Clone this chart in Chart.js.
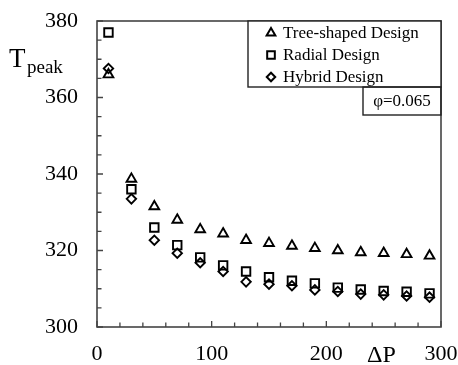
<!DOCTYPE html>
<html>
<head>
<meta charset="utf-8">
<script src="https://cdn.jsdelivr.net/npm/chart.js@4.4.1/dist/chart.umd.min.js"></script>
<style>
  html, body { margin: 0; padding: 0; background: #fff; }
  #wrap { width: 458px; height: 365px; }
</style>
</head>
<body>
<div id="wrap"><canvas id="chart" width="458" height="365"></canvas></div>
<script>
// pressure drop values (x)
const deltaP = [10, 30, 50, 70, 90, 110, 130, 150, 170, 190, 210, 230, 250, 270, 290];

// peak temperature per design
const treeShaped = [366, 338.7, 331.5, 328, 325.5, 324.4, 322.7, 321.9, 321.2, 320.6, 320, 319.5, 319.3, 319, 318.6];
const radial     = [377, 336, 326, 321.4, 318.2, 316.1, 314.5, 313, 312.1, 311.4, 310.3, 309.8, 309.4, 309.2, 308.8];
const hybrid     = [367.6, 333.5, 322.7, 319.3, 316.8, 314.5, 311.8, 311.2, 310.8, 309.7, 309.3, 308.6, 308.4, 308.1, 307.8];

const seriesLabels = ['Tree-shaped Design', 'Radial Design', 'Hybrid Design'];
const xTickLabels = [0, 100, 200, 300];
const yTickLabels = [300, 320, 340, 360, 380];

const SERIF = '"Liberation Serif", "Times New Roman", serif';
const AXIS = '#444';

function toPoints(values) {
  return values.map((v, i) => ({ x: deltaP[i], y: v }));
}

function makeSet(label, values, style, radius) {
  return {
    label,
    data: toPoints(values),
    pointStyle: style,
    pointRadius: radius,
    pointHoverRadius: radius,
    pointBorderColor: '#000',
    pointBackgroundColor: 'rgba(255,255,255,0)',
    pointBorderWidth: 1.9,
    showLine: false,
  };
}

/** frame, inward ticks, axis titles, legend and note box */
const decorations = {
  id: 'decorations',
  afterDraw(chart) {
    const ctx = chart.ctx;
    const a = chart.chartArea;
    const xs = chart.scales.x;
    const ys = chart.scales.y;

    ctx.save();
    // frame
    ctx.strokeStyle = AXIS;
    ctx.lineWidth = 1.6;
    ctx.strokeRect(a.left, a.top, a.right - a.left, a.bottom - a.top);

    // inward ticks
    ctx.lineWidth = 1.3;
    ctx.beginPath();
    xs.ticks.forEach(t => {
      const px = xs.getPixelForValue(t.value);
      const len = t.value % 100 === 0 ? 6 : 4.5;
      ctx.moveTo(px, a.bottom);
      ctx.lineTo(px, a.bottom - len);
    });
    ys.ticks.forEach(t => {
      const py = ys.getPixelForValue(t.value);
      const len = t.value % 20 === 0 ? 6 : 4.5;
      ctx.moveTo(a.left, py);
      ctx.lineTo(a.left + len, py);
    });
    ctx.stroke();

    // y title: T with subscript
    ctx.fillStyle = '#000';
    ctx.textBaseline = 'alphabetic';
    ctx.textAlign = 'left';
    ctx.font = '27px ' + SERIF;
    ctx.fillText('T', 9, 67);
    ctx.font = '19px ' + SERIF;
    ctx.fillText('peak', 27, 73);

    // x title
    ctx.font = '24px ' + SERIF;
    ctx.fillText('ΔP', 367, 362);

    // legend box
    const lx = a.right - 193, ly = a.top, lw = 193, lh = 66;
    ctx.fillStyle = '#fff';
    ctx.fillRect(lx, ly, lw, lh);
    ctx.strokeStyle = '#222';
    ctx.lineWidth = 1.4;
    ctx.strokeRect(lx, ly, lw, lh);
    ctx.font = '17px ' + SERIF;
    ctx.textBaseline = 'middle';
    chart.data.datasets.forEach((ds, i) => {
      const cy = ly + 12 + i * 22;
      ctx.strokeStyle = '#000';
      ctx.fillStyle = 'rgba(255,255,255,0)';
      ctx.lineWidth = 2;
      Chart.helpers.drawPoint(ctx, {
        pointStyle: ds.pointStyle, rotation: 0, borderWidth: 2, radius: ds.pointRadius * 0.9,
      }, lx + 23, cy);
      ctx.fillStyle = '#000';
      ctx.fillText(ds.label, lx + 35, cy + 1);
    });

    // note box
    const nx = a.right - 78, ny = ly + lh, nw = 78, nh = 28;
    ctx.strokeStyle = '#222';
    ctx.lineWidth = 1.4;
    ctx.strokeRect(nx, ny, nw, nh);
    ctx.fillStyle = '#000';
    ctx.textAlign = 'center';
    ctx.fillText('φ=0.065', nx + nw / 2, ny + nh / 2 + 1);
    ctx.restore();
  },
};

new Chart(document.getElementById('chart'), {
  type: 'scatter',
  data: {
    datasets: [
      makeSet(seriesLabels[0], treeShaped, 'triangle', 5.6),
      makeSet(seriesLabels[1], radial, 'rect', 6),
      makeSet(seriesLabels[2], hybrid, 'rectRot', 4.7),
    ],
  },
  options: {
    responsive: false,
    animation: false,
    layout: { padding: { left: 0, right: 17, top: 21, bottom: 0 } },
    plugins: {
      legend: { display: false },
      tooltip: { enabled: false },
    },
    scales: {
      x: {
        type: 'linear',
        min: 0,
        max: 300,
        grid: { display: false, drawTicks: false },
        border: { display: false },
        ticks: {
          stepSize: 20,
          autoSkip: false,
          maxRotation: 0,
          padding: 14,
          color: '#000',
          font: { family: SERIF, size: 22 },
          callback: v => (xTickLabels.includes(v) ? String(v) : ''),
        },
        afterFit: s => { s.height = 38; s.paddingLeft = 0; s.paddingRight = 0; },
      },
      y: {
        type: 'linear',
        min: 300,
        max: 380,
        grid: { display: false, drawTicks: false },
        border: { display: false },
        ticks: {
          stepSize: 5,
          autoSkip: false,
          padding: 19,
          color: '#000',
          font: { family: SERIF, size: 22 },
          callback: v => (yTickLabels.includes(v) ? String(v) : ''),
        },
        afterFit: s => { s.width = 97; s.paddingTop = 0; s.paddingBottom = 0; },
      },
    },
  },
  plugins: [decorations],
});
</script>
</body>
</html>
